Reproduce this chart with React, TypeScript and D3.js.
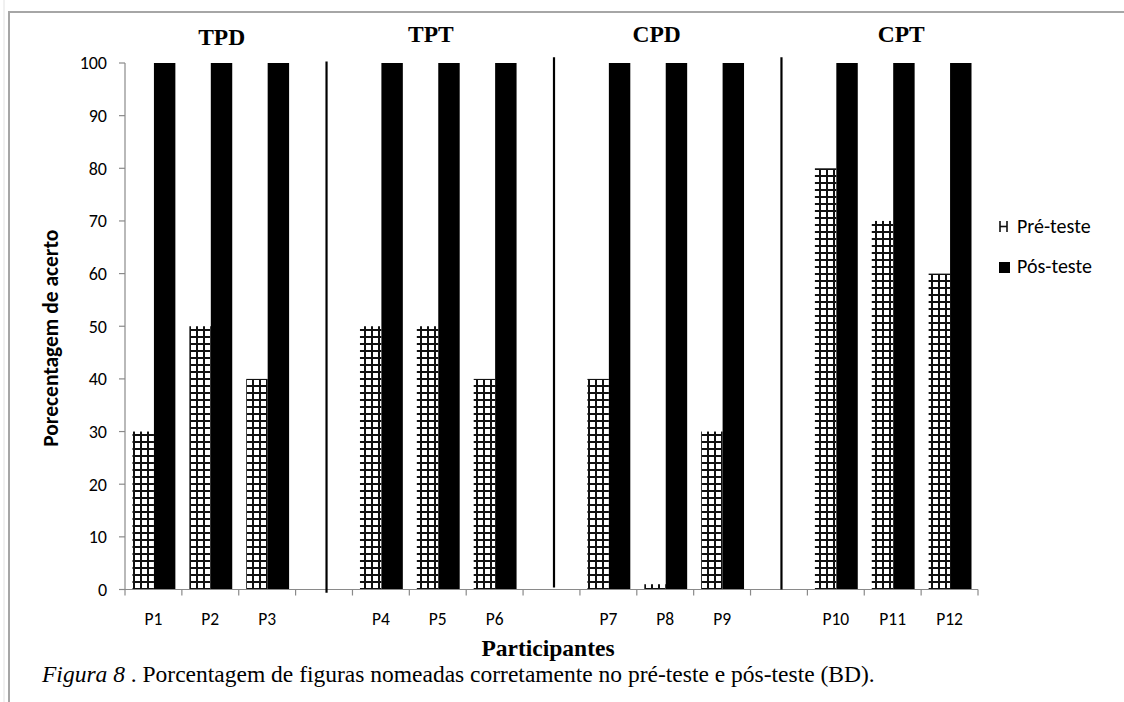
import React from "react";
import * as d3 from "d3";

const categories = ["P1", "P2", "P3", "s1", "P4", "P5", "P6", "s2", "P7", "P8", "P9", "s3", "P10", "P11", "P12"];
const preValues = [30, 50, 40, null, 50, 50, 40, null, 40, 1, 30, null, 80, 70, 60];
const postValues = [100, 100, 100, null, 100, 100, 100, null, 100, 100, 100, null, 100, 100, 100];
const yTicks = [0, 10, 20, 30, 40, 50, 60, 70, 80, 90, 100];
const groups = [
  { label: "TPD", at: "P2", dx: 0.2, top: 103.4 },
  { label: "TPT", at: "P5", dx: -0.12, top: 104 },
  { label: "CPD", at: "P8", dx: -0.15, top: 104 },
  { label: "CPT", at: "P11", dx: 0.15, top: 104 },
];
const separators = [
  { at: "s1", top: 100.3, bottom: -0.6 },
  { at: "s2", top: 101.1, bottom: 0.4 },
  { at: "s3", top: 101.1, bottom: 0 },
];
const seriesNames = ["Pré-teste", "Pós-teste"];

const W = 1124;
const H = 702;
const sans = "Carlito, Lato, 'Open Sans', sans-serif";
const serif = "'Liberation Serif', 'Times New Roman', serif";
const axisColor = "#8a8a8a";

export default function App() {
  const x = d3.scaleBand<string>().domain(categories).range([125, 978]).padding(0);
  const y = d3.scaleLinear().domain([0, 100]).range([589.5, 63]);
  const inner = d3.scaleBand<string>().domain(["pre", "post"]).range([7.5, x.bandwidth() - 6.5]).padding(0);
  const bw = x.bandwidth();

  return (
    <svg width={W} height={H} style={{ position: "absolute", left: 0, top: 0, background: "#fff" }}>
      <defs>
        <pattern id="grid" patternUnits="userSpaceOnUse" width={7} height={7}>
          <rect width={7} height={7} fill="#fff" />
          <rect x={0} y={0} width={7} height={2} fill="#111" />
          <rect x={0} y={0} width={2} height={7} fill="#111" />
        </pattern>
      </defs>

      {/* page frame */}
      <line x1={4} y1={0} x2={4} y2={H} stroke="#e2e2e2" strokeWidth={1} />
      <line x1={9} y1={12} x2={9} y2={H} stroke="#a6a6a6" strokeWidth={2} />
      <line x1={8} y1={12} x2={W} y2={12} stroke="#a6a6a6" strokeWidth={2} />

      {/* bars */}
      {categories.map((c, i) => {
        const pv = preValues[i];
        const qv = postValues[i];
        const x0 = x(c)!;
        return (
          <g key={c}>
            {pv != null && (
              <rect x={x0 + inner("pre")!} y={y(pv)} width={inner.bandwidth()} height={y(0) - y(pv)} fill="url(#grid)" />
            )}
            {qv != null && (
              <rect x={x0 + inner("post")!} y={y(qv)} width={inner.bandwidth()} height={y(0) - y(qv)} fill="#000" />
            )}
          </g>
        );
      })}

      {/* y axis */}
      <line x1={125} y1={y(100)} x2={125} y2={y(0)} stroke={axisColor} strokeWidth={1.2} />
      {yTicks.map((t) => (
        <g key={t}>
          <line x1={119} x2={125} y1={y(t)} y2={y(t)} stroke={axisColor} strokeWidth={1.2} />
          <text x={107} y={y(t)} dy="0.35em" textAnchor="end" fontFamily={sans} fontSize={18} fill="#000">
            {t}
          </text>
        </g>
      ))}

      {/* x axis */}
      <line x1={125} y1={y(0)} x2={978} y2={y(0)} stroke={axisColor} strokeWidth={1.2} />
      {categories.map((c) => (
        <line key={"t" + c} x1={x(c)!} x2={x(c)!} y1={y(0)} y2={y(0) + 6} stroke={axisColor} strokeWidth={1.2} />
      ))}
      <line x1={978} x2={978} y1={y(0)} y2={y(0) + 6} stroke={axisColor} strokeWidth={1.2} />
      {categories.map((c) =>
        c.startsWith("P") ? (
          <text key={"l" + c} x={x(c)! + bw / 2} y={625} textAnchor="middle" fontFamily={sans} fontSize={17.5} fill="#000">
            {c}
          </text>
        ) : null
      )}

      {/* separators */}
      {separators.map((s) => (
        <line key={s.at} x1={x(s.at)! + bw / 2 + 2.5} x2={x(s.at)! + bw / 2 + 2.5} y1={y(s.top)} y2={y(s.bottom)} stroke="#000" strokeWidth={2.2} />
      ))}

      {/* group titles */}
      {groups.map((g) => (
        <text key={g.label} x={x(g.at)! + bw / 2 + g.dx * bw} y={y(g.top)} textAnchor="middle" fontFamily={serif} fontWeight="bold" fontSize={23.5} fill="#000">
          {g.label}
        </text>
      ))}

      {/* axis titles */}
      <text transform={`translate(58, ${(y(0) + y(100)) / 2 + 12}) rotate(-90)`} textAnchor="middle" fontFamily={sans} fontWeight="bold" fontSize={21.5} fill="#000">
        Porecentagem de acerto
      </text>
      <text x={548} y={656} textAnchor="middle" fontFamily={serif} fontWeight="bold" fontSize={23.5} fill="#000">
        Participantes
      </text>

      {/* legend */}
      <g stroke="#111" strokeWidth={1.6}>
        <line x1={1000} x2={1000} y1={221} y2={232} />
        <line x1={1007} x2={1007} y1={221} y2={232} />
        <line x1={1000} x2={1007} y1={226.5} y2={226.5} />
      </g>
      <text x={1017} y={233} fontFamily={sans} fontSize={20} fill="#000">{seriesNames[0]}</text>
      <rect x={999} y={262} width={11} height={11} fill="#000" />
      <text x={1017} y={273} fontFamily={sans} fontSize={20} fill="#000">{seriesNames[1]}</text>

      {/* caption */}
      <text x={42} y={682} fontFamily={serif} fontSize={23.5} fill="#000">
        <tspan fontStyle="italic">Figura 8 </tspan>
        <tspan>. Porcentagem de figuras nomeadas corretamente no pré-teste e pós-teste (BD).</tspan>
      </text>
    </svg>
  );
}
